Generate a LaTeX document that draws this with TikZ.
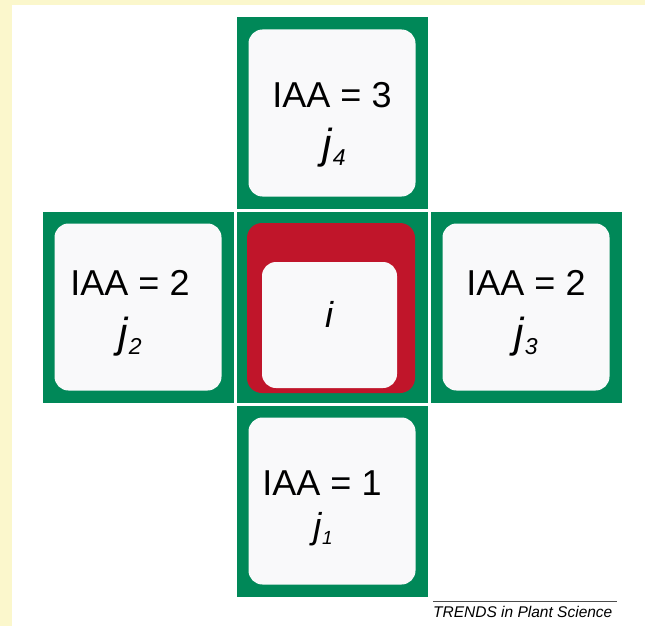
\documentclass[tikz,border=0pt]{standalone}
\usepackage{fontspec}
\setmainfont{Liberation Sans}
\usepackage{tikz}
\usetikzlibrary{positioning}

\definecolor{cellgreen}{RGB}{0,136,88}
\definecolor{cellred}{RGB}{192,21,42}
\definecolor{cardwhite}{RGB}{249,249,250}
\definecolor{pageyellow}{RGB}{251,247,204}

\newcommand{\jidx}[1]{\textit{j}\raisebox{-7pt}{\fontsize{23}{23}\selectfont\itshape #1}}

\begin{document}
\begin{tikzpicture}[
    x=1pt, y=-1pt,
    cell/.style={fill=cellgreen, inner sep=0, minimum size=191pt},
    card/.style={fill=cardwhite, rounded corners=14pt, inner sep=0, minimum size=167pt},
    hub/.style={fill=cellred, rounded corners=15pt, inner sep=0, minimum width=168pt, minimum height=170pt},
    iaa/.style={font=\fontsize{36}{40}\selectfont, anchor=base, inner sep=0},
    idx/.style={font=\fontsize{42}{46}\selectfont, anchor=base, inner sep=0}
]

% Page
\fill[pageyellow] (0,0) rectangle (645,626);
\fill[white] (12,5) rectangle (645,626);
\useasboundingbox (0,0) rectangle (645,626);

% Cells of the cross
\node[cell] (cellC) at (332,307) {};
\node[cell] (cellN) at (332,113) {};
\node[cell] (cellS) at (332,501) {};
\node[cell] (cellW) at (138,307) {};
\node[cell] (cellE) at (526,307) {};

% Cards
\node[card] (cardN) at (cellN) {};
\node[card] (cardS) at (cellS) {};
\node[card] (cardW) at (cellW) {};
\node[card] (cardE) at (cellE) {};

% Centre cell i
\node[hub] (hubC) at (331,308) {};
\node[card, minimum width=135pt, minimum height=126pt] (cardC) at (329.5,325) {};
\node[iaa] (labI) at ([yshift=-2pt]cardC.center) {\textit{i}};

% Labels
\node[iaa] (iaaN) at ([yshift=6pt]cellN.center) {IAA = 3};
\node[idx] (jN) at ([xshift=2pt,yshift=-45pt]cellN.center) {\jidx{4}};
\node[iaa] (iaaW) at ([xshift=-8pt,yshift=12pt]cellW.center) {IAA = 2};
\node[idx] (jW) at ([xshift=-8pt,yshift=-40pt]cellW.center) {\jidx{2}};
\node[iaa] (iaaE) at ([yshift=12pt]cellE.center) {IAA = 2};
\node[idx] (jE) at ([yshift=-40pt]cellE.center) {\jidx{3}};
\node[iaa] (iaaS) at ([xshift=-10pt,yshift=6pt]cellS.center) {IAA = 1};
\node[idx, font=\fontsize{36}{40}\selectfont] (jS) at ([xshift=-9pt,yshift=-37pt]cellS.center) {\textit{j}\raisebox{-6pt}{\fontsize{19}{19}\selectfont\itshape 1}};

% Journal mark
\node[anchor=base west, inner sep=0, font=\fontsize{15.5}{17}\selectfont\itshape] (trends) at (433,617) {TRENDS in Plant Science};
\draw[black!70, line width=0.6pt] ([yshift=4pt]trends.north west) -- ++(184,0);

\end{tikzpicture}
\end{document}
